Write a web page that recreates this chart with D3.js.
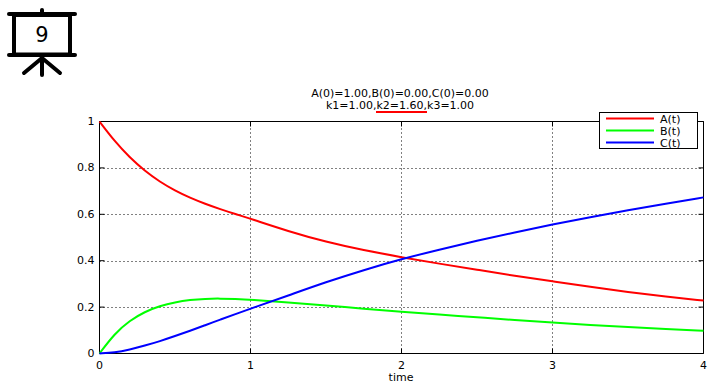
<!DOCTYPE html>
<html lang="en">
<head>
    <meta charset="UTF-8">
    <title>A B C kinetics</title>
    <style>
        body { margin: 0; background: white; }
        svg { display: block; }
        text { font-family: "DejaVu Sans", sans-serif; font-size: 11px; fill: black; }
    </style>
</head>
<body>
    <div id="chart"></div>
    <script src="https://d3js.org/d3.v7.min.js"></script>
    <script>
        const time = [0, 0.1, 0.2, 0.3, 0.4, 0.5, 0.6, 0.7, 0.8, 0.9, 1, 1.25, 1.5, 1.75, 2, 2.25, 2.5, 2.75, 3, 3.25, 3.5, 3.75, 4];
        const seriesA = [1, 0.915, 0.845, 0.787, 0.74, 0.702, 0.671, 0.645, 0.622, 0.601, 0.581, 0.527, 0.481, 0.445, 0.415, 0.387, 0.361, 0.335, 0.311, 0.287, 0.265, 0.246, 0.228];
        const seriesB = [0, 0.086, 0.142, 0.18, 0.205, 0.221, 0.231, 0.236, 0.237, 0.235, 0.232, 0.22, 0.207, 0.193, 0.18, 0.168, 0.156, 0.144, 0.133, 0.123, 0.114, 0.106, 0.098];
        const seriesC = [0, 0.004, 0.017, 0.034, 0.053, 0.075, 0.098, 0.122, 0.146, 0.17, 0.193, 0.25, 0.308, 0.36, 0.407, 0.448, 0.486, 0.522, 0.556, 0.588, 0.618, 0.646, 0.673];
        const xTicks = [0, 1, 2, 3, 4];
        const yTicks = [0, 0.2, 0.4, 0.6, 0.8, 1];
        const legendNames = ['A(t)', 'B(t)', 'C(t)'];
        const colors = ['#ff0000', '#00ff00', '#0000ff'];
        const titleLines = ['A(0)=1.00,B(0)=0.00,C(0)=0.00', 'k1=1.00,k2=1.60,k3=1.00'];

        const svg = d3.select('#chart').append('svg')
            .attr('width', 728)
            .attr('height', 388);

        const x = d3.scaleLinear().domain([0, 4]).range([99.5, 703.5]);
        const y = d3.scaleLinear().domain([0, 1]).range([353.5, 121.5]);

        // grid
        const grid = svg.append('g').attr('stroke', 'black').attr('stroke-dasharray', '1,3');
        grid.selectAll('.gx').data(xTicks.slice(1, -1)).join('line')
            .attr('x1', d => x(d)).attr('x2', d => x(d))
            .attr('y1', y(0)).attr('y2', y(1));
        grid.selectAll('.gy').data(yTicks.slice(1, -1)).join('line')
            .attr('x1', x(0)).attr('x2', x(4))
            .attr('y1', d => Math.round(y(d)) + 0.5).attr('y2', d => Math.round(y(d)) + 0.5);

        // axes, all four sides with short ticks pointing in
        const fmt = d => String(d);
        const axes = [
            d3.axisBottom(x).tickValues(xTicks).tickFormat(fmt).tickSizeInner(-5).tickSizeOuter(0).tickPadding(8).offset(0),
            d3.axisTop(x).tickValues(xTicks).tickFormat('').tickSizeInner(-5).tickSizeOuter(0).offset(0),
            d3.axisLeft(y).tickValues(yTicks).tickFormat(fmt).tickSizeInner(-5).tickSizeOuter(0).tickPadding(5).offset(0),
            d3.axisRight(y).tickValues(yTicks).tickFormat('').tickSizeInner(-5).tickSizeOuter(0).offset(0)
        ];
        const offsets = [[0, y(0)], [0, y(1)], [x(0), 0], [x(4), 0]];
        axes.forEach((axis, i) => {
            const g = svg.append('g')
                .attr('transform', `translate(${offsets[i][0]},${offsets[i][1]})`)
                .call(axis);
            g.selectAll('path, line').attr('stroke', 'black');
            g.attr('font-family', null).attr('font-size', null);
        });

        // curves
        const line = d3.line().curve(d3.curveBasis);
        [seriesA, seriesB, seriesC].forEach((s, i) => {
            svg.append('path')
                .attr('d', line(time.map((t, j) => [x(t), y(s[j])])))
                .attr('fill', 'none')
                .attr('stroke', colors[i])
                .attr('stroke-width', 2);
        });

        // titles
        svg.selectAll('.title').data(titleLines).join('text')
            .attr('x', 400)
            .attr('y', (d, i) => 97 + i * 12)
            .attr('text-anchor', 'middle')
            .text(d => d);
        svg.append('line')
            .attr('x1', 376).attr('x2', 427).attr('y1', 112).attr('y2', 112)
            .attr('stroke', '#ff0000').attr('stroke-width', 2);
        svg.append('text').attr('x', 401).attr('y', 381).attr('text-anchor', 'middle').text('time');

        // legend
        svg.append('rect')
            .attr('x', 599.5).attr('y', 112.5).attr('width', 98).attr('height', 36)
            .attr('fill', 'white').attr('stroke', 'black');
        legendNames.forEach((name, i) => {
            const ly = 118.5 + i * 12;
            svg.append('line')
                .attr('x1', 606).attr('x2', 654).attr('y1', ly).attr('y2', ly)
                .attr('stroke', colors[i]).attr('stroke-width', 2);
            svg.append('text').attr('x', 660).attr('y', ly + 4).text(name);
        });

        // slide icon
        const icon = svg.append('g').attr('stroke', 'black').attr('stroke-linecap', 'round').attr('fill', 'none');
        icon.append('rect').attr('x', 14).attr('y', 15).attr('width', 56).attr('height', 39.5).attr('stroke-width', 4);
        const iconBars = [[9, 14, 75, 14], [9, 55, 75, 55], [42, 10, 42, 14], [42, 57, 42, 75], [42, 58, 24, 73], [42, 58, 60, 73]];
        icon.selectAll('.bar').data(iconBars).join('line')
            .attr('x1', d => d[0]).attr('y1', d => d[1]).attr('x2', d => d[2]).attr('y2', d => d[3])
            .attr('stroke-width', 4);
        svg.append('text').attr('x', 42).attr('y', 42).attr('text-anchor', 'middle')
            .style('font-size', '21px').text('9');
    </script>
</body>
</html>
